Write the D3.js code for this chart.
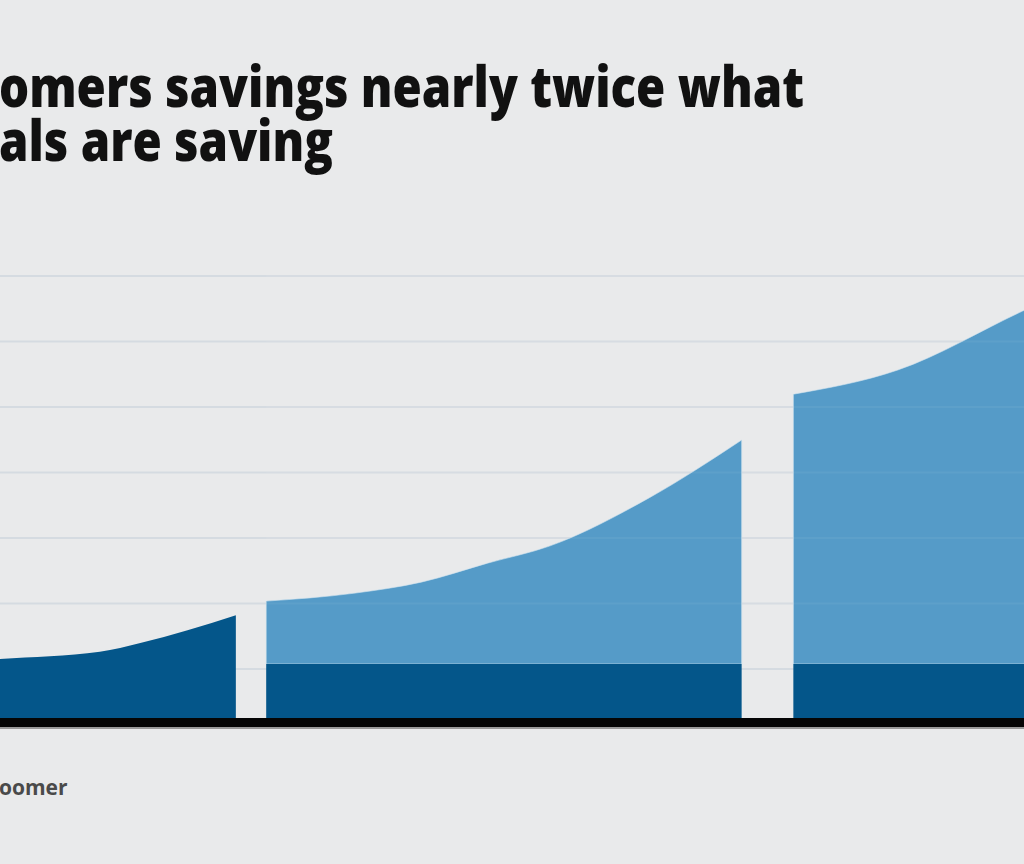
<!DOCTYPE html>
<html><head><meta charset="utf-8">
<script src="https://cdn.jsdelivr.net/npm/d3@7"></script>
<style>html,body{margin:0;padding:0;background:#e9eaeb;overflow:hidden} svg{display:block}</style>
</head><body>
<svg id="chart" width="1024" height="864"></svg>
<script>
// ---- data ----
const titleLines = ["Baby Boomers savings nearly twice what", "Millennials are saving"];
const titleHidden = ["Baby Bo", "Millenni"];
const legendLabel = "Boomer";
const legendHidden = "B";
const yTicks = [0, 10, 20, 30, 40, 50, 60];
// segment 1 : dark series only
const seg1X    = [0, 7.1, 16.0, 19.6, 23.8, 28.1];
const seg1Dark = [0.75, 1.5, 2.6, 3.95, 5.9, 8.2];
// segment 2 : dark base + light series
const seg2X     = [30.8, 38.6, 44.6, 50.5, 56.0, 64.9, 73.1];
const seg2Dark  = [0.75, 0.75, 0.75, 0.75, 0.75, 0.75, 0.75];
const seg2Light = [9.6, 10.8, 12.5, 15.4, 18.0, 25.4, 34.2];
// segment 3 : dark base + light series
const seg3X     = [77.7, 87.0, 98.1, 100];
const seg3Dark  = [0.75, 0.75, 0.75, 0.75];
const seg3Light = [41.2, 44.9, 53.9, 55.4];

// ---- drawing ----
const W = 1024, H = 864;
const svg = d3.select("#chart");
const x = d3.scaleLinear().domain([0, 100]).range([-80, 1044]);
const y = d3.scaleLinear().domain([-7.5, 60]).range([718, 276]);
const DARK = "#04568a", LIGHT = "#559bc8";

// gridlines
svg.append("g").selectAll("line").data(yTicks).join("line")
  .attr("x1", 0).attr("x2", W)
  .attr("y1", d => y(d)).attr("y2", d => y(d))
  .attr("stroke", "#d5dbe1").attr("stroke-width", 2);

const curve = d3.curveMonotoneX;
function seg(xs, lo, hi) { return xs.map((v, i) => ({x: v, lo: lo[i], hi: hi[i]})); }
const areaGen = d3.area().curve(curve).x(d => x(d.x)).y0(d => y(d.lo)).y1(d => y(d.hi));

const zeros = a => a.map(() => -7.5);
const darkSegs = [
  seg(seg1X, zeros(seg1X), seg1Dark),
  seg(seg2X, zeros(seg2X), seg2Dark),
  seg(seg3X, zeros(seg3X), seg3Dark)
];
const lightSegs = [
  seg(seg2X, seg2Dark, seg2Dark.map((d, i) => d + seg2Light[i])),
  seg(seg3X, seg3Dark, seg3Dark.map((d, i) => d + seg3Light[i]))
];
svg.append("g").selectAll("path").data(lightSegs).join("path")
  .attr("d", areaGen).attr("fill", LIGHT)
  .attr("stroke", "#cfe2ef").attr("stroke-width", 1).attr("stroke-opacity", 0.6);
svg.append("g").selectAll("path").data(darkSegs).join("path")
  .attr("d", areaGen).attr("fill", DARK);

// faint grid over areas
svg.append("g").selectAll("line").data(yTicks.slice(1)).join("line")
  .attr("x1", x(seg2X[0])).attr("x2", W)
  .attr("y1", d => y(d)).attr("y2", d => y(d))
  .attr("stroke", "#ffffff").attr("stroke-opacity", 0.05).attr("stroke-width", 2);

// axis baseline
svg.append("rect").attr("x", 0).attr("y", y(-7.5)).attr("width", W).attr("height", 9).attr("fill", "#050505");
svg.append("rect").attr("x", 0).attr("y", y(-7.5) + 9).attr("width", W).attr("height", 2).attr("fill", "#9a9a9a");

// title
const titleFont = "'Open Sans', 'Noto Sans', sans-serif";
const visibleW = 805;
const baselines = [107, 161];
function measure(str, size, weight) {
  const t = svg.append("text").attr("font-family", titleFont).attr("font-weight", weight).attr("font-size", size).text(str);
  const w = t.node().getComputedTextLength(); t.remove(); return w;
}
const s = visibleW / (measure(titleLines[0], 57, 800) - measure(titleHidden[0], 57, 800));
titleLines.forEach((line, i) => {
  const full = measure(line, 57, 800);
  const pre = measure(titleHidden[i], 57, 800);
  svg.append("text")
    .attr("x", -pre * s - 1).attr("y", baselines[i])
    .attr("font-family", titleFont).attr("font-weight", 800).attr("font-size", 57)
    .attr("fill", "#111111")
    .attr("textLength", full * s).attr("lengthAdjust", "spacingAndGlyphs")
    .text(line);
});

// legend label
const bw = measure(legendHidden, 21, 700);
svg.append("text").attr("font-family", titleFont).attr("font-weight", 700).attr("font-size", 21)
  .attr("fill", "#4a4a4a").attr("x", -bw - 1).attr("y", 795).text(legendLabel);
</script>
</body></html>
